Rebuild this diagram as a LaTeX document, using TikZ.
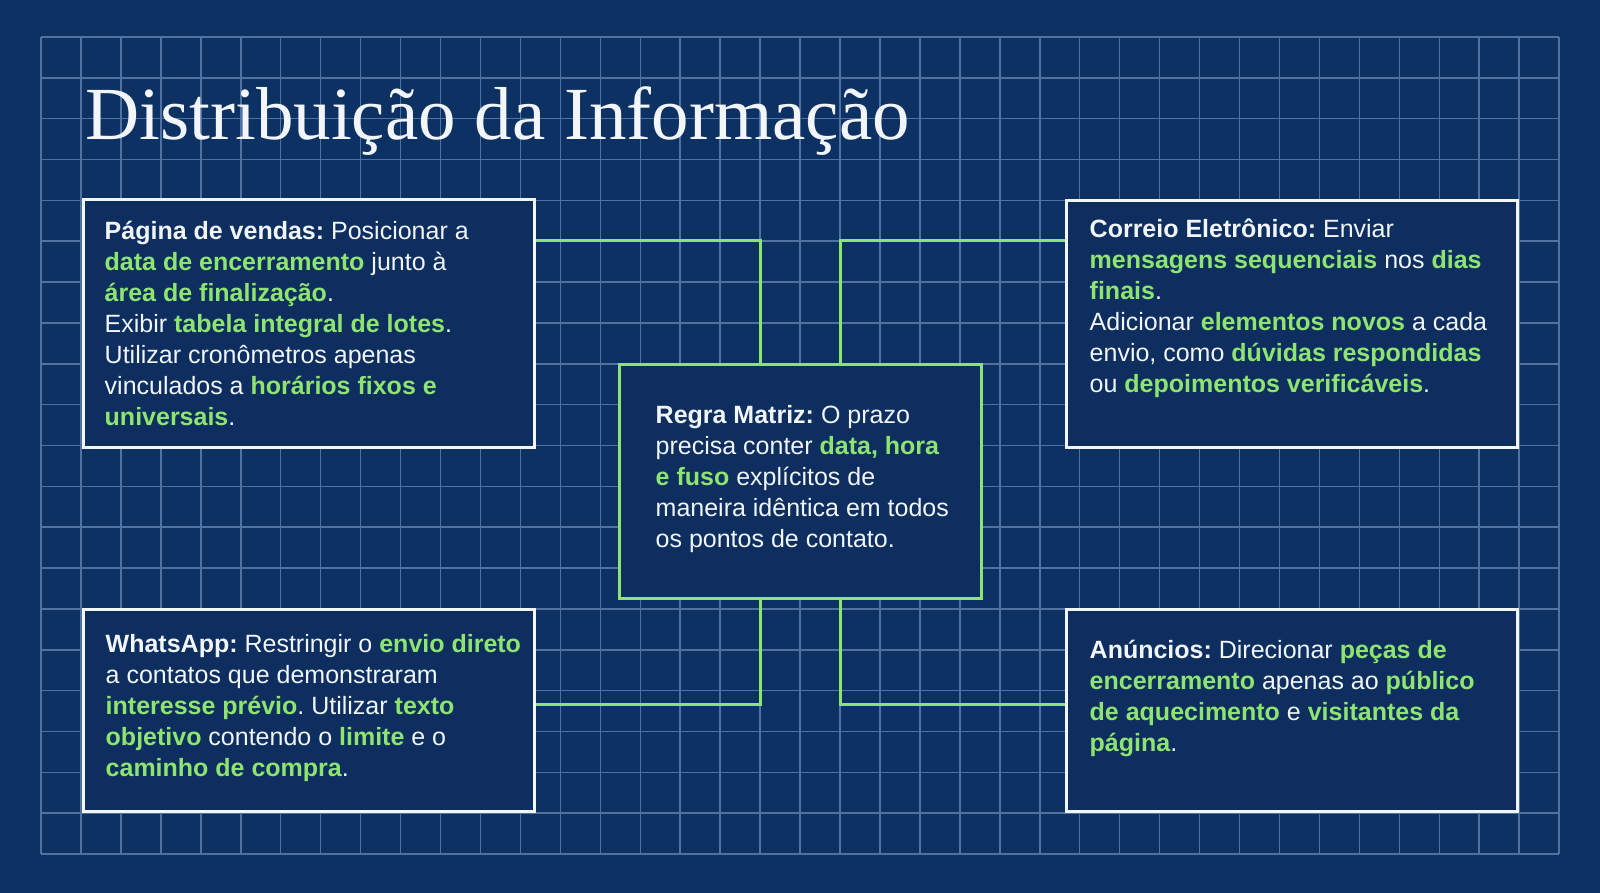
\documentclass[tikz,border=0pt]{standalone}
\usepackage{fontspec}
\setmainfont{Liberation Sans}
\newfontfamily\titlefont{Liberation Serif}
\definecolor{navy-bg}{RGB}{14,49,99}
\definecolor{navy-box}{RGB}{13,46,94}
\definecolor{grid-blue}{RGB}{80,114,162}
\definecolor{lime-text}{RGB}{142,228,112}
\definecolor{paper-white}{RGB}{242,245,249}
\usetikzlibrary{positioning}
\newcommand\hl[1]{\textbf{\color{lime-text}#1}}
\newcommand\lead[1]{\textbf{#1}}
\frenchspacing

\begin{document}
\begin{tikzpicture}[%
    x=1pt,y=-1pt,
    gridline/.style={grid-blue,line width=1.5pt},
    panel/.style={draw=paper-white,fill=navy-box,line width=3pt,
      minimum width=451pt,inner sep=0pt},
    hub/.style={panel,draw=lime-text,minimum width=362pt,minimum height=234pt},
    link/.style={lime-text,line width=3pt},
    panetext/.style={text=paper-white,align=left,anchor=base west,inner sep=0pt,
      font=\fontsize{25}{31}\selectfont}
  ]
  \def\gx{39.95}
  \def\gy{40.85}

  \fill [navy-bg] (0,0) rectangle (1600,893);
  \foreach \i in {0,...,38}
    \draw [gridline] ({41+\i*\gx},37) -- ({41+\i*\gx},854);
  \foreach \j in {0,...,20}
    \draw [gridline] (41,{37+\j*\gy}) -- (1559,{37+\j*\gy});

  \node [anchor=base west,inner sep=0pt,text=paper-white,
    font=\titlefont\fontsize{75}{80}\selectfont] (titulo) at (85,140)
    {Distribuição da Informação};

  % boxes
  \node [panel,minimum height=247pt] (vendas) at (308.5,323.5) {};
  \node [panel,minimum height=246pt] (correio) at (1291.5,324) {};
  \node [hub] (regra) at (800,481) {};
  \node [panel,minimum height=202pt] (whats) at (308.5,710) {};
  \node [panel,minimum height=202pt] (anuncios) at (1291.5,710) {};

  % links to the hub
  \draw [link] ([yshift=-42pt]vendas.north east) -| ([xshift=-40pt]regra.north);
  \draw [link] ([yshift=-41pt]correio.north west) -| ([xshift=40pt]regra.north);
  \draw [link] ([xshift=-40pt]regra.south) |- ([yshift=6pt]whats.east);
  \draw [link] ([xshift=40pt]regra.south) |- ([yshift=6pt]anuncios.west);

  % texts (anchored on the last line)
  \node [panetext] (vendastxt) at ([shift={(23,227)}]vendas.north west)
    {\lead{Página de vendas:} Posicionar a\\
     \hl{data de encerramento} junto à\\
     \hl{área de finalização}.\\
     Exibir \hl{tabela integral de lotes}.\\
     Utilizar cronômetros apenas\\
     vinculados a \hl{horários fixos e}\\
     \hl{universais}.};
  \node [panetext] (correiotxt) at ([shift={(25,193)}]correio.north west)
    {\lead{Correio Eletrônico:} Enviar\\
     \hl{mensagens sequenciais} nos \hl{dias}\\
     \hl{finais}.\\
     Adicionar \hl{elementos novos} a cada\\
     envio, como \hl{dúvidas respondidas}\\
     ou \hl{depoimentos verificáveis}.};
  \node [panetext] (regratxt) at ([shift={(38,185)}]regra.north west)
    {\lead{Regra Matriz:} O prazo\\
     precisa conter \hl{data, hora}\\
     \hl{e fuso} explícitos de\\
     maneira idêntica em todos\\
     os pontos de contato.};
  \node [panetext] (whatstxt) at ([shift={(24,169)}]whats.north west)
    {\lead{WhatsApp:} Restringir o \hl{envio direto}\\
     a contatos que demonstraram\\
     \hl{interesse prévio}. Utilizar \hl{texto}\\
     \hl{objetivo} contendo o \hl{limite} e o\\
     \hl{caminho de compra}.};
  \node [panetext] (anunciostxt) at ([shift={(25,144)}]anuncios.north west)
    {\lead{Anúncios:} Direcionar \hl{peças de}\\
     \hl{encerramento} apenas ao \hl{público}\\
     \hl{de aquecimento} e \hl{visitantes da}\\
     \hl{página}.};
\end{tikzpicture}
\end{document}
